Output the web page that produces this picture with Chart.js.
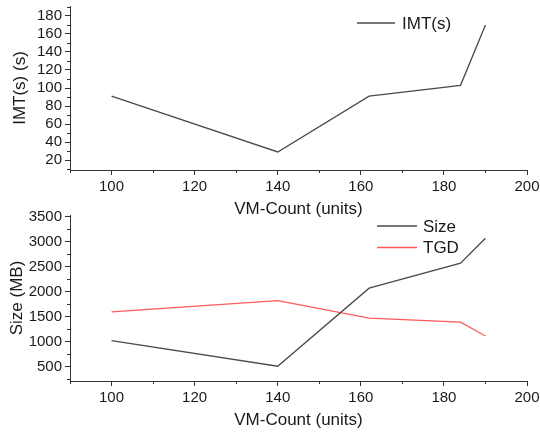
<!DOCTYPE html>
<html>
<head>
<meta charset="utf-8">
<script src="https://cdn.jsdelivr.net/npm/chart.js@4.4.1/dist/chart.umd.min.js"></script>
<style>
  html, body { margin: 0; padding: 0; background: #ffffff; }
  body { width: 540px; height: 436px; position: relative; overflow: hidden; }
  .box { position: absolute; left: 0; width: 540px; }
  #topBox { top: 0; height: 220px; }
  #botBox { top: 200px; height: 236px; }
</style>
</head>
<body>
<div class="box" id="topBox"><canvas id="c1"></canvas></div>
<div class="box" id="botBox"><canvas id="c2"></canvas></div>
<script>
// ---- data ----
const vmCount = [100, 140, 162, 184, 190];
const imtValues = [91, 29, 91, 103, 170];
const sizeValues = [1020, 510, 2070, 2570, 3070];
const tgdValues = [1595, 1820, 1470, 1390, 1115];
const xTickValues = [100, 120, 140, 160, 180, 200];
const imtTickValues = [20, 40, 60, 80, 100, 120, 140, 160, 180];
const sizeTickValues = [500, 1000, 1500, 2000, 2500, 3000, 3500];

const FONT = "'Liberation Sans', Arial, sans-serif";
const AXIS = '#333333';
const TXT = '#1a1a1a';

function pts(xs, ys) { return xs.map((x, i) => ({ x: x, y: ys[i] })); }

const minorTicks = {
  id: 'minorTicks',
  afterDraw(chart, args, opts) {
    const ctx = chart.ctx;
    const xs = chart.scales.x, ys = chart.scales.y;
    ctx.save();
    ctx.strokeStyle = AXIS;
    ctx.lineWidth = 1;
    ctx.beginPath();
    for (let v = xs.min; v <= xs.max + 1e-6; v += opts.xStep) {
      if (Math.abs(v % (opts.xStep * 2)) < 1e-6) continue;
      const p = Math.round(xs.getPixelForValue(v)) + 0.5;
      ctx.moveTo(p, xs.top); ctx.lineTo(p, xs.top + 3);
    }
    const start = Math.ceil(ys.min / opts.yStep) * opts.yStep;
    for (let v = start; v <= ys.max + 1e-6; v += opts.yStep) {
      if (Math.abs(v % (opts.yStep * 2)) < 1e-6) continue;
      const p = Math.round(ys.getPixelForValue(v)) + 0.5;
      ctx.moveTo(ys.right - 3, p); ctx.lineTo(ys.right, p);
    }
    ctx.stroke();
    ctx.restore();
  }
};

const innerLegend = {
  id: 'innerLegend',
  afterDraw(chart, args, opts) {
    const ctx = chart.ctx;
    ctx.save();
    ctx.font = '17px ' + FONT;
    ctx.textBaseline = 'middle';
    ctx.textAlign = 'left';
    chart.data.datasets.forEach((ds, i) => {
      const y = opts.y + i * opts.rowH;
      ctx.strokeStyle = ds.borderColor;
      ctx.lineWidth = ds.borderWidth;
      ctx.beginPath();
      ctx.moveTo(opts.x, y); ctx.lineTo(opts.x + opts.lineLen, y);
      ctx.stroke();
      ctx.fillStyle = TXT;
      ctx.fillText(ds.label, opts.x + opts.lineLen + opts.gap, y + 1);
    });
    ctx.restore();
  }
};

function makeOptions(cfg) {
  return {
    responsive: true,
    maintainAspectRatio: false,
    animation: false,
    layout: { padding: { left: 0, right: 13, top: cfg.padTop, bottom: 0 } },
    plugins: {
      legend: { display: false },
      tooltip: { enabled: false },
      minorTicks: { xStep: 10, yStep: cfg.yMinorStep },
      innerLegend: cfg.legend
    },
    elements: { point: { radius: 0 }, line: { tension: 0 } },
    scales: {
      x: {
        type: 'linear',
        min: 90, max: 200,
        afterBuildTicks: (s) => { s.ticks = xTickValues.map(v => ({ value: v })); },
        afterFit: (s) => { s.height = cfg.xAxisH; s.paddingLeft = 0; s.paddingRight = 0; s.paddingTop = 0; s.paddingBottom = 0; },
        grid: { drawOnChartArea: false, drawTicks: true, tickLength: 5, color: AXIS, tickColor: AXIS },
        border: { display: true, color: AXIS, width: 1 },
        ticks: { color: TXT, font: { family: FONT, size: 15 }, padding: 3, maxRotation: 0, autoSkip: false, callback: (v) => String(v) },
        title: { display: true, text: 'VM-Count (units)', color: TXT, font: { family: FONT, size: 17 }, padding: { top: 0, bottom: cfg.xTitlePad } }
      },
      y: {
        type: 'linear',
        min: cfg.yMin, max: cfg.yMax,
        afterBuildTicks: (s) => { s.ticks = cfg.yTicks.map(v => ({ value: v })); },
        afterFit: (s) => { s.width = 70; s.paddingLeft = 0; s.paddingRight = 0; s.paddingTop = 0; s.paddingBottom = 0; },
        grid: { drawOnChartArea: false, drawTicks: true, tickLength: 5, color: AXIS, tickColor: AXIS },
        border: { display: true, color: AXIS, width: 1 },
        ticks: { color: TXT, font: { family: FONT, size: 15 }, padding: 3, autoSkip: false, callback: (v) => String(v) },
        title: { display: true, text: cfg.yTitle, color: TXT, font: { family: FONT, size: 17 }, padding: { top: cfg.yTitlePad, bottom: 0 } }
      }
    }
  };
}

new Chart(document.getElementById('c1'), {
  type: 'line',
  data: {
    datasets: [
      { label: 'IMT(s)', data: pts(vmCount, imtValues), borderColor: '#4a4a4a', borderWidth: 1.3, fill: false }
    ]
  },
  options: makeOptions({
    padTop: 6, xAxisH: 50, xTitlePad: 0, yMin: 9, yMax: 191, yTicks: imtTickValues,
    yMinorStep: 10, yTitle: 'IMT(s) (s)', yTitlePad: 10,
    legend: { x: 357, y: 23, lineLen: 38, gap: 7, rowH: 21 }
  }),
  plugins: [minorTicks, innerLegend]
});

new Chart(document.getElementById('c2'), {
  type: 'line',
  data: {
    datasets: [
      { label: 'Size', data: pts(vmCount, sizeValues), borderColor: '#4a4a4a', borderWidth: 1.3, fill: false },
      { label: 'TGD', data: pts(vmCount, tgdValues), borderColor: '#ff5a5a', borderWidth: 1.3, fill: false }
    ]
  },
  options: makeOptions({
    padTop: 15, xAxisH: 55, xTitlePad: 5, yMin: 214, yMax: 3534, yTicks: sizeTickValues,
    yMinorStep: 250, yTitle: 'Size (MB)', yTitlePad: 7,
    legend: { x: 377, y: 26, lineLen: 40, gap: 6, rowH: 21.5 }
  }),
  plugins: [minorTicks, innerLegend]
});
</script>
</body>
</html>
